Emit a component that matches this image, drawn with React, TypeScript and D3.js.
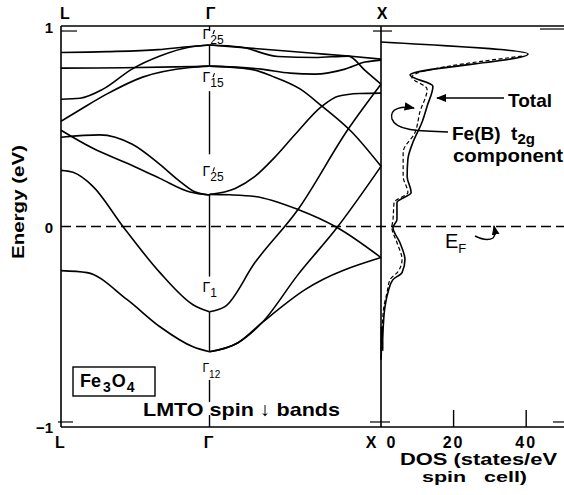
import React from "react";
import * as d3 from "d3";

// path coordinate: L = -0.866, Γ = 0, X = 1  (2π/a units)
const kPoints = [-0.866, 0, 1];
const kLabels = ["L", "Γ", "X"];
const energyTicks = [1, 0, -1];
const dosTicks = [0, 20, 40];

// bands along L -> Γ, [k, E(eV)]
const bandLG1 = [[-0.866, 0.868], [-0.6, 0.872], [-0.3, 0.882], [-0.11, 0.898], [0, 0.905]];
const bandLG2 = [[-0.866, 0.79], [-0.5, 0.792], [-0.2, 0.796], [0, 0.8]];
const bandLG3 = [[-0.866, 0.635], [-0.755, 0.64], [-0.621, 0.685], [-0.452, 0.785], [-0.289, 0.85], [-0.114, 0.895], [0, 0.905]];
const bandLG4 = [[-0.866, 0.525], [-0.75, 0.585], [-0.6, 0.66], [-0.39, 0.745], [-0.114, 0.793], [0, 0.8]];
const bandLG5 = [[-0.866, 0.48], [-0.68, 0.39], [-0.48, 0.315], [-0.29, 0.24], [-0.114, 0.172], [0, 0.157]];
const bandLG6 = [[-0.866, 0.445], [-0.64, 0.457], [-0.45, 0.41], [-0.29, 0.31], [-0.18, 0.23], [-0.09, 0.175], [0, 0.157]];
const bandLG7 = [[-0.866, 0.28], [-0.796, 0.27], [-0.68, 0.2], [-0.505, 0.0], [-0.289, -0.23], [-0.096, -0.39], [0, -0.425]];
const bandLG8 = [[-0.866, -0.22], [-0.714, -0.23], [-0.48, -0.365], [-0.289, -0.5], [-0.096, -0.6], [0, -0.625]];

// bands along Γ -> X
const bandGX1 = [[0, 0.905], [0.3, 0.885], [0.59, 0.865], [0.81, 0.85], [1, 0.835]];
const bandGX2 = [[0, 0.905], [0.18, 0.895], [0.4, 0.848], [0.615, 0.843], [0.81, 0.85], [0.905, 0.78], [1, 0.71]];
const bandGX3 = [[0, 0.8], [0.3, 0.785], [0.47, 0.765], [0.615, 0.76], [0.79, 0.785], [0.907, 0.82], [1, 0.83]];
const bandGX4 = [[0, 0.8], [0.236, 0.785], [0.364, 0.75], [0.53, 0.685], [0.656, 0.6], [0.831, 0.47], [1, 0.3]];
const bandGX5 = [[0, -0.425], [0.09, -0.4], [0.265, -0.18], [0.516, 0.085], [0.808, 0.485], [1, 0.71]];
const bandGX6 = [[0, 0.16], [0.15, 0.19], [0.265, 0.25], [0.38, 0.345], [0.5, 0.46], [0.656, 0.6], [0.75, 0.65], [0.875, 0.663], [1, 0.665]];
const bandGX7 = [[0, 0.16], [0.12, 0.158], [0.265, 0.15], [0.516, 0.085], [0.744, -0.005], [1, -0.155]];
const bandGX8 = [[0, -0.625], [0.166, -0.58], [0.306, -0.48], [0.557, -0.315], [1, -0.155]];
const bandGX9 = [[0, -0.625], [0.166, -0.58], [0.306, -0.48], [0.516, -0.24], [0.744, -0.005], [1, 0.3]];

const bands = [bandLG1, bandLG2, bandLG3, bandLG4, bandLG5, bandLG6, bandLG7, bandLG8,
  bandGX1, bandGX2, bandGX3, bandGX4, bandGX5, bandGX6, bandGX7, bandGX8, bandGX9];

// density of states, [E(eV), states/eV spin cell]
const dosTotal = [[0.92, 0], [0.86, 40.5], [0.755, 8.0], [0.7, 14.3], [0.6, 12.7], [0.52, 11.3], [0.42, 8.8],
  [0.335, 7.4], [0.25, 7.2], [0.17, 8.3], [0.12, 4.4], [0.035, 4.4], [-0.005, 3.3], [-0.08, 5.2], [-0.165, 6.6],
  [-0.23, 5.8], [-0.265, 3.3], [-0.33, 1.9], [-0.4, 1.1], [-0.515, 0.55], [-0.59, 0.2], [-0.665, 0]];
const dosFeB = [[0.85, 38.8], [0.745, 8.5], [0.685, 12.7], [0.57, 10.7], [0.47, 9.4], [0.37, 6.1], [0.25, 6.1],
  [0.17, 7.4], [0.12, 3.6], [0.035, 3.3], [-0.005, 3.0], [-0.08, 4.4], [-0.165, 5.8], [-0.225, 4.7], [-0.265, 2.5],
  [-0.33, 1.65], [-0.4, 0.8], [-0.515, 0.3], [-0.59, 0]];

// Γ-point level labels: energy, prime, subscript
const gammaLevels = [
  { e: 0.905, prime: true, sub: "25" },
  { e: 0.8, prime: true, sub: "15" },
  { e: 0.16, prime: true, sub: "25" },
  { e: -0.425, prime: false, sub: "1" },
  { e: -0.625, prime: false, sub: "12" },
];

const font = "Liberation Sans, Arial, sans-serif";

export default function App() {
  const x = d3.scaleLinear().domain([kPoints[0], kPoints[2]]).range([61, 381]);
  const y = d3.scaleLinear().domain([-1, 1]).range([427, 26]);
  const dosX = d3.scaleLinear().domain([0, 50]).range([381, 562.5]);

  const bandLine = d3.line<number[]>().x(d => x(d[0])).y(d => y(d[1])).curve(d3.curveMonotoneX);
  const dosLine = d3.line<number[]>().x(d => dosX(d[1])).y(d => y(d[0])).curve(d3.curveMonotoneY);

  const xG = x(0), xX = x(1), xL = x(kPoints[0]);
  const right = 564;

  // Γ vertical line, broken where labels sit
  const gammaSegs = [[1, 0.975], [0.905, 0.8], [0.675, 0.36], [0.16, -0.25], [-0.425, -0.625], [-0.765, -0.875], [-0.94, -1]];
  const labelDy = [-6, 16, -18, -20, 20];

  return (
    <svg width={564} height={495} style={{ position: "absolute", left: 0, top: 0, background: "#fff" }}
      fontFamily={font}>
      <defs>
        <marker id="ah" viewBox="0 0 10 10" refX="9" refY="5" markerWidth="7" markerHeight="7" orient="auto">
          <path d="M0,1 L10,5 L0,9 Z" fill="#000" />
        </marker>
      </defs>

      {/* frame */}
      <g stroke="#000" strokeWidth={1.6} fill="none">
        <line x1={xL} x2={right} y1={y(1)} y2={y(1)} />
        <line x1={xL} x2={right} y1={y(-1)} y2={y(-1)} />
        <line x1={xL} x2={xL} y1={y(1)} y2={y(-1)} />
        <line x1={xX} x2={xX} y1={y(1)} y2={y(-1)} />
        {gammaSegs.map((s, i) => (
          <line key={i} x1={xG} x2={xG} y1={y(s[0])} y2={y(s[1])} strokeWidth={1.4} />
        ))}
        <line x1={xL} x2={xL + 16} y1={y(0.975)} y2={y(0.975)} strokeWidth={1.2} />
        <line x1={xL - 3} x2={xL + 12} y1={y(-0.975)} y2={y(-0.975)} strokeWidth={1.2} />
        <line x1={xX - 8} x2={xX + 11} y1={y(0.975)} y2={y(0.975)} strokeWidth={1.2} />
        <line x1={xX - 11} x2={xX + 9} y1={y(-0.975)} y2={y(-0.975)} strokeWidth={1.2} />
        <line x1={right - 24} x2={right} y1={y(0.985)} y2={y(0.985)} strokeWidth={1.2} />
        <line x1={right - 11} x2={right} y1={y(-0.975)} y2={y(-0.975)} strokeWidth={1.2} />
        {dosTicks.slice(1).map(t => (
          <line key={t} x1={dosX(t)} x2={dosX(t)} y1={y(-1)} y2={y(-0.915)} strokeWidth={1.4} />
        ))}
      </g>

      {/* Fermi level */}
      <line x1={xL} x2={right} y1={y(0)} y2={y(0)} stroke="#000" strokeWidth={1.5} strokeDasharray="10,5" />

      {/* bands */}
      <g stroke="#000" strokeWidth={1.6} fill="none">
        {bands.map((b, i) => <path key={i} d={bandLine(b) || ""} />)}
      </g>

      {/* DOS */}
      <path d={dosLine(dosTotal) || ""} fill="none" stroke="#000" strokeWidth={1.6} />
      <path d={dosLine(dosFeB) || ""} fill="none" stroke="#000" strokeWidth={1.2} strokeDasharray="4,2.5" />
      <line x1={xX + 1} x2={xX + 1} y1={y(-0.5)} y2={y(-0.62)} stroke="#000" strokeWidth={3} />

      {/* k labels */}
      <g fontWeight="bold" fontSize={16} textAnchor="middle">
        {kPoints.map((k, i) => (
          <text key={"t" + i} x={x(k) + (i === 0 ? 4 : 1)} y={19}>{kLabels[i]}</text>
        ))}
        {kPoints.map((k, i) => (
          <text key={"b" + i} x={x(k) - (i === 2 ? 10 : 1)} y={448}>{kLabels[i]}</text>
        ))}
      </g>

      {/* energy ticks */}
      <g fontWeight="bold" fontSize={15} textAnchor="end">
        {energyTicks.map(t => (
          <text key={t} x={53} y={y(t) + (t === 1 ? 7 : 6)}>{t < 0 ? "−" + Math.abs(t) : t}</text>
        ))}
      </g>
      <text transform="translate(24,202) rotate(-90)" textAnchor="middle" fontWeight="bold" fontSize={16}
        textLength={114} lengthAdjust="spacingAndGlyphs">Energy (eV)</text>

      {/* DOS ticks */}
      <g fontWeight="bold" fontSize={16} textAnchor="middle">
        {dosTicks.map(t => (
          <text key={t} x={dosX(t) + (t === 0 ? 10 : 0)} y={448} letterSpacing={t === 0 ? 0 : 2}>{t}</text>
        ))}
      </g>
      <text x={400} y={465} fontWeight="bold" fontSize={16} textLength={157} lengthAdjust="spacingAndGlyphs">DOS (states/eV</text>
      <text x={422} y={482} fontWeight="bold" fontSize={15} textLength={105} lengthAdjust="spacingAndGlyphs" xmlSpace="preserve">spin   cell)</text>

      {/* Γ level labels */}
      {gammaLevels.map((g, i) => {
        const yy = y(g.e) + labelDy[i];
        const small = g.sub === "12";
        return (
          <g key={i}>
            <text x={xG - 7} y={yy} fontSize={small ? 12 : 14}>
              Γ<tspan fontSize={small ? 10 : 12} dy={small ? 6 : 5}>{g.sub}</tspan>
            </text>
            {g.prime && <path d={`M${xG + 5},${yy - 9} l-1.5,4`} stroke="#000" strokeWidth={1.1} />}
          </g>
        );
      })}

      {/* Fe3O4 box */}
      <rect x={73} y={367} width={82} height={29} fill="none" stroke="#000" strokeWidth={1.4} />
      <text x={80} y={387} fontSize={18} fontWeight="bold">
        Fe<tspan fontSize={14} dy={5} dx={2}>3</tspan><tspan dy={-5} dx={1}>O</tspan><tspan fontSize={14} dy={5} dx={1}>4</tspan>
      </text>
      <text x={143} y={416} fontSize={19} fontWeight="bold" textLength={197} lengthAdjust="spacingAndGlyphs">LMTO spin ↓ bands</text>

      {/* annotations */}
      <text x={508} y={107} fontSize={19} fontWeight="bold">Total</text>
      <line x1={504} x2={437} y1={98} y2={98} stroke="#000" strokeWidth={1.5} markerEnd="url(#ah)" />
      <text x={452} y={140} fontSize={19} fontWeight="bold" xmlSpace="preserve">Fe(B)  t<tspan fontSize={15} dy={4}>2g</tspan></text>
      <text x={453} y={162} fontSize={18} fontWeight="bold" textLength={110} lengthAdjust="spacingAndGlyphs">component</text>
      <path d="M448,132 C420,131 396,131 392,119 C389,108 402,106 414,108" fill="none" stroke="#000" strokeWidth={1.5} markerEnd="url(#ah)" />

      <text x={445} y={248} fontSize={20}>E<tspan fontSize={13} dy={5}>F</tspan></text>
      <path d="M475,236 C481,239 488,241 493,238 C496,235 495,231 494,226" fill="none" stroke="#000" strokeWidth={1.4} markerEnd="url(#ah)" />
    </svg>
  );
}
